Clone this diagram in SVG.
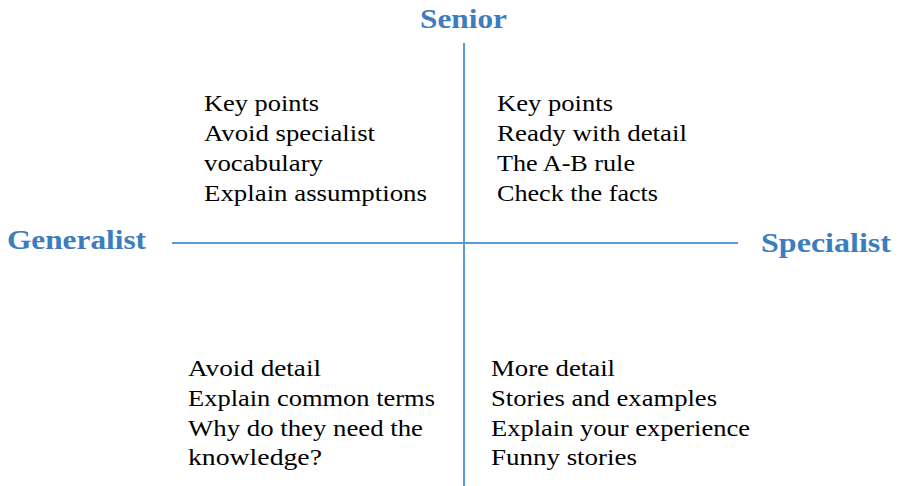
<svg xmlns="http://www.w3.org/2000/svg" width="902" height="486" viewBox="0 0 902 486">
<style>
.ax{stroke:#5b9bd5;stroke-width:2;fill:none}
.lbl{font-family:"Liberation Serif","DejaVu Serif",serif;font-weight:bold;font-size:28px;fill:#3c7dbd}
.t{font-family:"Liberation Serif","DejaVu Serif",serif;font-size:24px;fill:#000}
</style>
<rect width="902" height="486" fill="#fff"/>
<g id="connectors">
<line class="ax" x1="464" y1="43" x2="464" y2="486"/>
<line class="ax" x1="172" y1="243" x2="738" y2="243"/>
</g>
<g id="senior"><text class="lbl" x="420" y="28" textLength="87" lengthAdjust="spacingAndGlyphs">Senior</text></g>
<g id="generalist"><text class="lbl" x="7" y="249" textLength="139" lengthAdjust="spacingAndGlyphs">Generalist</text></g>
<g id="specialist"><text class="lbl" x="761" y="252" textLength="130" lengthAdjust="spacingAndGlyphs">Specialist</text></g>
<g id="top-left">
<text class="t" x="204" y="111" textLength="115" lengthAdjust="spacingAndGlyphs">Key points</text>
<text class="t" x="204" y="141" textLength="171" lengthAdjust="spacingAndGlyphs">Avoid specialist</text>
<text class="t" x="204" y="171" textLength="119" lengthAdjust="spacingAndGlyphs">vocabulary</text>
<text class="t" x="204" y="201" textLength="223" lengthAdjust="spacingAndGlyphs">Explain assumptions</text>
</g>
<g id="top-right">
<text class="t" x="497" y="111" textLength="116" lengthAdjust="spacingAndGlyphs">Key points</text>
<text class="t" x="497" y="141" textLength="190" lengthAdjust="spacingAndGlyphs">Ready with detail</text>
<text class="t" x="497" y="171" textLength="138" lengthAdjust="spacingAndGlyphs">The A-B rule</text>
<text class="t" x="497" y="201" textLength="161" lengthAdjust="spacingAndGlyphs">Check the facts</text>
</g>
<g id="bottom-left">
<text class="t" x="188" y="376" textLength="133" lengthAdjust="spacingAndGlyphs">Avoid detail</text>
<text class="t" x="188" y="406" textLength="247" lengthAdjust="spacingAndGlyphs">Explain common terms</text>
<text class="t" x="188" y="436" textLength="235" lengthAdjust="spacingAndGlyphs">Why do they need the</text>
<text class="t" x="188" y="465" textLength="134" lengthAdjust="spacingAndGlyphs">knowledge?</text>
</g>
<g id="bottom-right">
<text class="t" x="491" y="376" textLength="124" lengthAdjust="spacingAndGlyphs">More detail</text>
<text class="t" x="491" y="406" textLength="226" lengthAdjust="spacingAndGlyphs">Stories and examples</text>
<text class="t" x="491" y="436" textLength="259" lengthAdjust="spacingAndGlyphs">Explain your experience</text>
<text class="t" x="491" y="465" textLength="146" lengthAdjust="spacingAndGlyphs">Funny stories</text>
</g>
</svg>
